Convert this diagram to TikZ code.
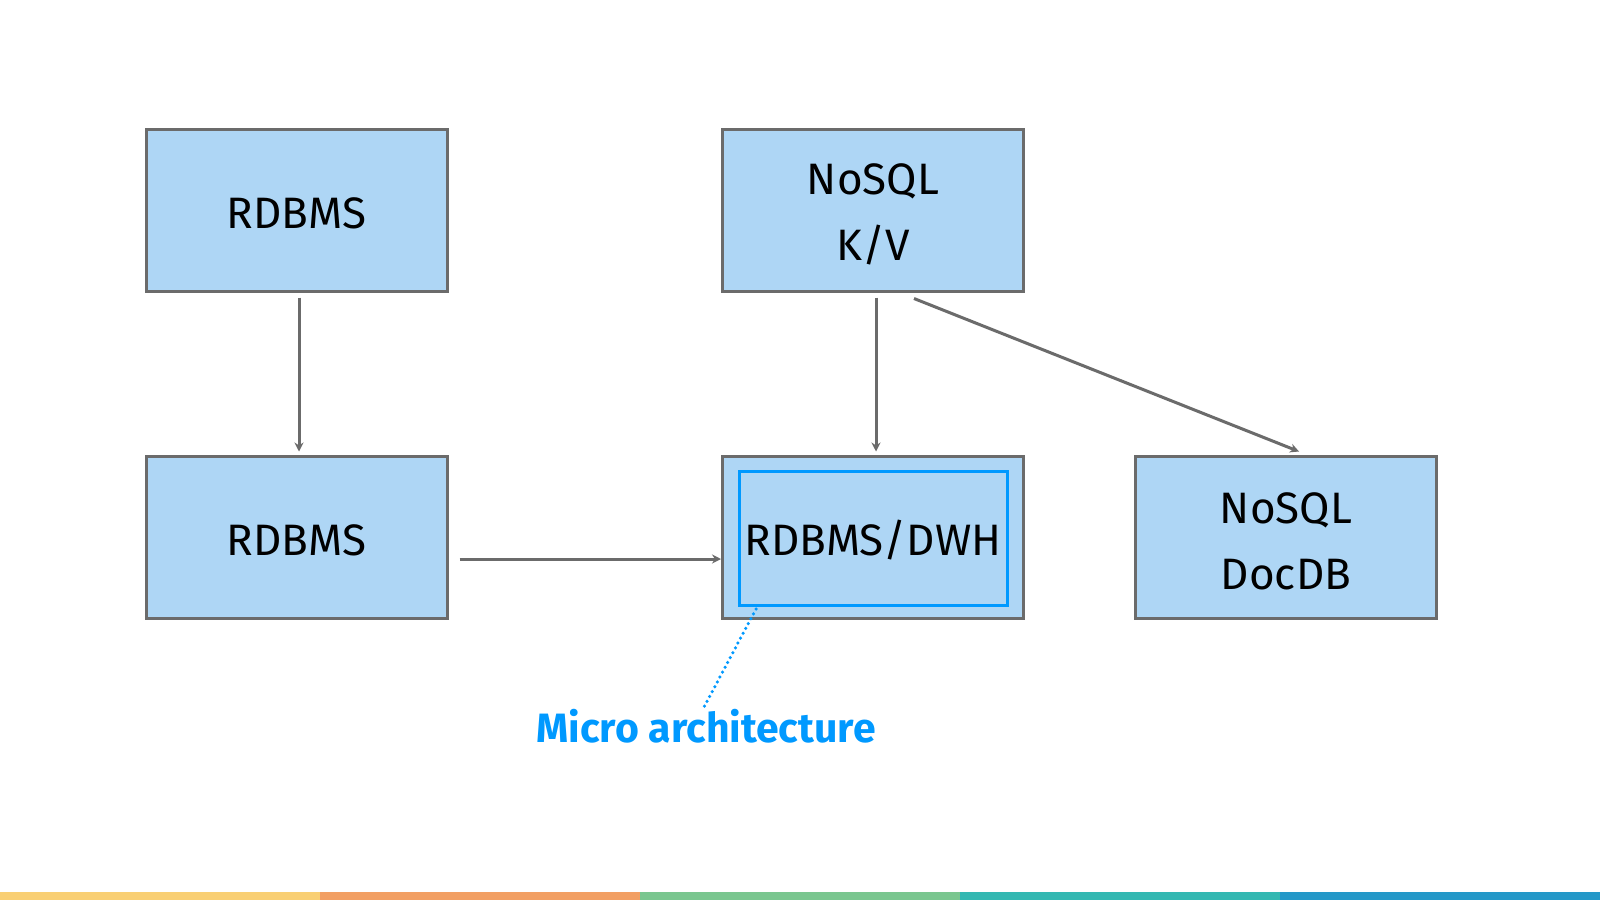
\documentclass[tikz,border=0pt]{standalone}
\usepackage{fontspec}
\setmainfont{Fira Sans}
\usetikzlibrary{arrows.meta}
\definecolor{boxfill}{HTML}{AED6F5}
\definecolor{boxline}{HTML}{6B6B6B}
\definecolor{microblue}{HTML}{0099FF}
\definecolor{s1}{HTML}{F9CF73}
\definecolor{s2}{HTML}{F29F63}
\definecolor{s3}{HTML}{7AC68F}
\definecolor{s4}{HTML}{33B8B2}
\definecolor{s5}{HTML}{2498C8}
\tikzset{
  dbbox/.style={draw=boxline, fill=boxfill, line width=3pt, minimum width=301pt, minimum height=162pt, inner sep=0pt},
  boxtext/.style={inner sep=0pt, align=center, font=\fontsize{44}{66}\selectfont},
  innerbox/.style={draw=microblue, line width=3pt, minimum width=268pt, minimum height=134pt, inner sep=0pt},
  arr/.style={draw=boxline, line width=3pt, -{Stealth[length=9pt,width=9pt]}},
  dotline/.style={draw=microblue, line width=3.5pt, line cap=round, dash pattern=on 0pt off 5.5pt},
  lbl/.style={text=microblue, font=\fontsize{41}{48}\selectfont\bfseries, inner sep=0pt}
}
\begin{document}
\begin{tikzpicture}[x=1pt,y=-1pt]
\useasboundingbox (0,0) rectangle (1600,900);
\fill[white] (0,0) rectangle (1600,900);
% bottom stripe
\fill[s1] (0,892) rectangle (320,900);
\fill[s2] (320,892) rectangle (640,900);
\fill[s3] (640,892) rectangle (960,900);
\fill[s4] (960,892) rectangle (1280,900);
\fill[s5] (1280,892) rectangle (1600,900);
% boxes
\node[dbbox] (b1) at (296.5,210) {};
\node[boxtext] (t1) at ([yshift=-3.5pt]b1.center) {RDBMS};
\node[dbbox] (b2) at (873,210) {};
\node[boxtext] (t2) at ([yshift=-4pt]b2.center) {NoSQL\\K/V};
\node[dbbox] (b3) at (296.5,537) {};
\node[boxtext] (t3) at ([yshift=-3.5pt]b3.center) {RDBMS};
\node[dbbox] (b4) at (873,537) {};
\node[innerbox] (in) at (873.5,538.5) {};
\node[boxtext] (t4) at (873,540) {RDBMS/DWH};
\node[dbbox] (b5) at (1286,537) {};
\node[boxtext] (t5) at ([yshift=-4pt]b5.center) {NoSQL\\DocDB};
\node[lbl] (lab) at (706,726) {Micro architecture};
% connectors
\draw[arr] ([xshift=2.5pt,yshift=-5pt]b1.south) -- ([xshift=2.5pt,yshift=3pt]b3.north);
\draw[arr] ([xshift=3pt,yshift=-5pt]b2.south) -- ([xshift=3pt,yshift=3pt]b4.north);
\draw[arr] ([xshift=41pt,yshift=-6pt]b2.south) -- ([xshift=13pt,yshift=3pt]b5.north);
\draw[arr] ([xshift=11pt,yshift=-22pt]b3.east) -- ([yshift=-22pt]b4.west);
\draw[dotline] ([xshift=18pt,yshift=-2pt]in.south west) -- ([xshift=-4pt,yshift=-2pt]lab.north);
\end{tikzpicture}
\end{document}
